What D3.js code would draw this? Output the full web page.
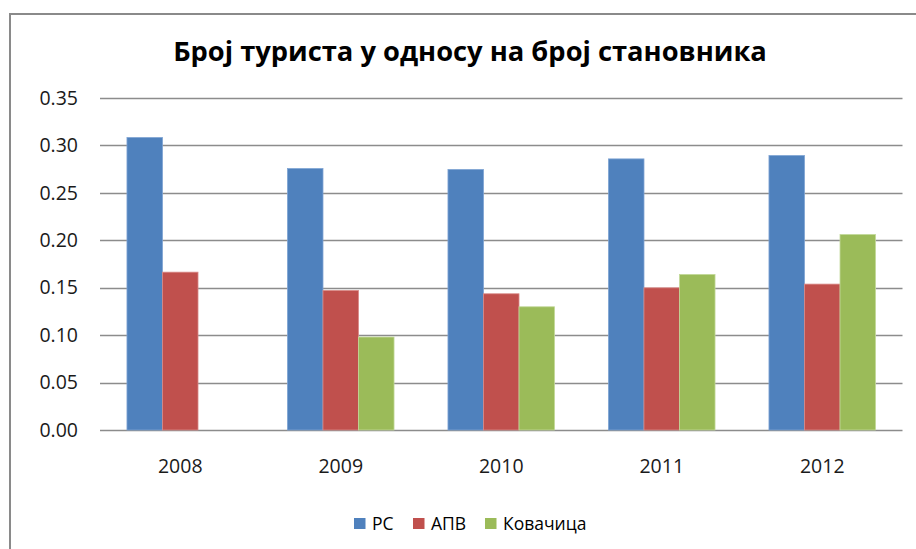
<!DOCTYPE html>
<html><head><meta charset="utf-8">
<script src="https://cdn.jsdelivr.net/npm/d3@7"></script>
<style>body{margin:0;background:#fff}svg{display:block}</style>
</head><body>
<script>
const title = "Број туриста у односу на број становника";
const years = ["2008","2009","2010","2011","2012"];
const seriesNames = ["РС","АПВ","Ковачица"];
const colors = ["#4f81bd","#c0504d","#9bbb59"];
const strokeColors = ["#7ea3d3","#d98a88","#c3d99a"];
const rs = [0.3083,0.2756,0.2746,0.2858,0.2893];
const apv = [0.1664,0.1471,0.1436,0.1499,0.1538];
const kov = [null,0.0980,0.1299,0.1640,0.2061];
const yTicks = [0,0.05,0.10,0.15,0.20,0.25,0.30,0.35];

(function(){
const W=916,H=549;
const svg=d3.select("body").append("svg").attr("width",W).attr("height",H);
svg.append("rect").attr("width",W).attr("height",H).attr("fill","#fff");
svg.append("path").attr("d",`M10,${H+2} L10,14 L${W+2},14`).attr("fill","none").attr("stroke","#8a8a8a").attr("stroke-width",2);

const pl=100,pr=902.5,pt=98,pb=430;
const x=d3.scaleBand().domain(years).range([pl,pr]).paddingInner(0.336).paddingOuter(0.168);
const xs=d3.scaleBand().domain(d3.range(3)).range([0,x.bandwidth()]);
const y=d3.scaleLinear().domain([0,0.35]).range([pb,pt]);

svg.append("g").selectAll("line").data(yTicks).join("line")
  .attr("x1",pl).attr("x2",pr).attr("y1",d=>Math.round(y(d))+0.5).attr("y2",d=>Math.round(y(d))+0.5)
  .attr("stroke","#8c8c8c").attr("stroke-width",1.6);

const yAxis=d3.axisLeft(y).tickValues(yTicks).tickFormat(d3.format(".2f")).tickSize(0).tickPadding(22);
const ga=svg.append("g").attr("transform",`translate(${pl},0)`).call(yAxis);
ga.select(".domain").remove();
ga.selectAll("text").attr("font-family","Open Sans").attr("font-size",19.5).attr("fill","#1a1a1a");

const data=[rs,apv,kov];
data.forEach((arr,si)=>{
  svg.append("g").selectAll("rect").data(years.map((yr,i)=>({yr,v:arr[i]})).filter(d=>d.v!=null)).join("rect")
    .attr("x",d=>x(d.yr)+xs(si)).attr("width",xs.bandwidth())
    .attr("y",d=>y(d.v)).attr("height",d=>y(0)-y(d.v))
    .attr("fill",colors[si]).attr("stroke",strokeColors[si]).attr("stroke-width",0.8);
});

const xAxis=d3.axisBottom(x).tickSize(0).tickPadding(29);
const gx=svg.append("g").attr("transform",`translate(0,${pb})`).call(xAxis);
gx.select(".domain").remove();
gx.selectAll("text").attr("font-family","Open Sans").attr("font-size",19.5).attr("fill","#1a1a1a");

const t=svg.append("text").attr("x",470).attr("y",61).attr("text-anchor","middle")
  .attr("font-family","Open Sans").attr("font-weight","bold").attr("font-size",24).attr("fill","#000").text(title);
const tw=t.node().getComputedTextLength();
t.attr("font-size",24*594/tw);

const legX=[354,413,485];
const lg=svg.append("g");
seriesNames.forEach((n,i)=>{
  lg.append("rect").attr("x",legX[i]).attr("y",518).attr("width",11.5).attr("height",11).attr("fill",colors[i]);
  lg.append("text").attr("x",legX[i]+18).attr("y",529.5).attr("font-family","Open Sans").attr("font-size",17.5).attr("fill","#000").text(n);
});
})();
</script>
</body></html>
